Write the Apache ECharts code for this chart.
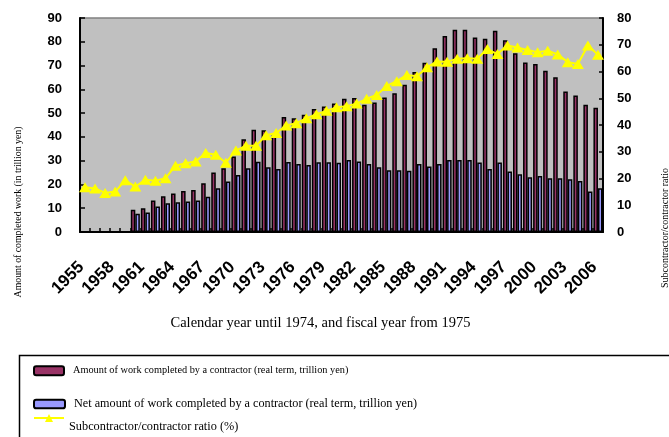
<!DOCTYPE html>
<html><head><meta charset="utf-8">
<script src="https://cdn.jsdelivr.net/npm/echarts@6/dist/echarts.min.js"></script>
<style>html,body{margin:0;padding:0;background:#fff}#c{width:669px;height:437px}</style>
</head><body><div id="c"></div>
<script>
const years = ['1955','1956','1957','1958','1959','1960','1961','1962','1963','1964','1965','1966','1967','1968','1969','1970','1971','1972','1973','1974','1975','1976','1977','1978','1979','1980','1981','1982','1983','1984','1985','1986','1987','1988','1989','1990','1991','1992','1993','1994','1995','1996','1997','1998','1999','2000','2001','2002','2003','2004','2005','2006'];
const contractor = [null,null,null,null,null,
  9.4,10.0,13.3,15.0,16.2,17.2,17.7,20.5,25.0,26.8,
  31.7,39.0,43.0,42.8,41.5,48.4,47.8,49.3,51.7,52.8,
  54.0,56.0,56.4,53.5,54.5,56.6,58.4,61.9,67.3,71.2,
  77.3,82.4,85.1,85.1,81.8,81.3,84.6,80.6,75.2,71.3,
  70.7,67.8,65.1,59.1,57.4,53.5,52.3];
const netAmount = [null,null,null,null,null,
  7.7,8.2,10.7,12.1,12.5,12.8,13.3,14.8,18.4,21.2,
  24.0,26.8,29.5,27.2,26.5,29.4,28.6,28.2,29.3,29.3,
  29.1,30.3,29.6,28.6,27.2,26.0,26.0,25.8,28.6,27.5,
  28.6,30.3,30.3,30.3,29.2,26.5,29.2,25.4,24.3,23.0,
  23.6,22.6,22.6,22.2,21.5,17.0,18.4];
const ratio = [16.7,16.3,14.6,15.1,19.3,
  17.0,19.5,19.2,20.1,24.8,25.7,26.4,29.5,28.9,25.9,
  30.5,32.2,32.2,36.2,37.0,39.8,40.7,42.5,44.0,45.3,
  46.6,47.0,48.0,49.8,51.2,54.6,56.4,58.7,58.2,61.6,
  63.7,63.6,64.8,65.0,64.8,68.4,66.5,69.7,69.0,68.0,
  67.2,67.8,66.4,63.5,62.8,69.7,66.3];
const seriesNames = ['Amount of work completed by a contractor (real term, trillion yen)',
  'Net amount of work completed by a contractor (real term, trillion yen)',
  'Subcontractor/contractor ratio (%)'];
const xTitle = 'Calendar year until 1974, and fiscal year from 1975';
const yLeftTitle = 'Amount of completed work (in trillion yen)';
const yRightTitle = 'Subcontractor/contractor ratio';

const chart = echarts.init(document.getElementById('c'), null, {renderer:'canvas'});
const serif = 'Liberation Serif';
const sans = 'Liberation Sans';
chart.setOption({
  animation:false,
  backgroundColor:'#fff',
  grid:{left:80,right:66,top:18,height:214,outerBoundsMode:'none',containLabel:false,
    show:true,backgroundColor:'#C0C0C0',borderColor:'#808080',borderWidth:1.5},
  legend:[
    {data:[seriesNames[0]],left:33,top:364.7,padding:0,itemWidth:30,itemHeight:9,
     itemStyle:{borderColor:'#000',borderWidth:2},
     textStyle:{fontFamily:serif,fontSize:10.3,lineHeight:12,color:'#000',padding:[0,0,0,4]}},
    {data:[seriesNames[1]],left:33,top:397.5,padding:0,itemWidth:31,itemHeight:8.5,
     itemStyle:{borderColor:'#000',borderWidth:2},
     textStyle:{fontFamily:serif,fontSize:12.2,lineHeight:13,color:'#000',padding:[0,0,0,4]}},
    {data:[seriesNames[2]],left:33,top:403,padding:0,itemWidth:30,itemHeight:10,
     formatter:function(n){return '{t|' + n + '}';},
     textStyle:{color:'#000',rich:{t:{fontFamily:serif,fontSize:12.3,lineHeight:14,color:'#000',padding:[18,0,0,0]}}}}
  ],
  xAxis:{type:'category',data:years,boundaryGap:true,
    axisLine:{lineStyle:{color:'#000',width:2}},
    axisTick:{show:true,inside:true,length:4,interval:0,lineStyle:{color:'#000',width:1.5}},
    axisLabel:{interval:2,rotate:45,fontFamily:sans,fontWeight:'bold',fontSize:17,color:'#000',margin:29,padding:[0,5,0,0]},
    name:xTitle,nameLocation:'middle',nameGap:84,
    nameTextStyle:{fontFamily:serif,fontSize:14.5,color:'#000',padding:[0,42,0,0]}
  },
  yAxis:[
    {type:'value',min:0,max:90,interval:10,position:'left',
     axisLine:{show:true,lineStyle:{color:'#000',width:2}},
     axisTick:{show:true,inside:true,length:5,lineStyle:{color:'#000',width:1.5}},
     axisLabel:{fontFamily:sans,fontWeight:'bold',fontSize:13,color:'#000',margin:18},
     splitLine:{show:false},
     name:yLeftTitle,nameLocation:'middle',nameRotate:90,nameGap:57,
     nameTextStyle:{fontFamily:serif,fontSize:9.8,color:'#000',padding:[0,174,0,0]}},
    {type:'value',min:0,max:80,interval:10,position:'right',
     axisLine:{show:true,lineStyle:{color:'#000',width:2}},
     axisTick:{show:true,inside:true,length:4,lineStyle:{color:'#000',width:1.5}},
     axisLabel:{fontFamily:sans,fontWeight:'bold',fontSize:13,color:'#000',margin:14},
     splitLine:{show:false},
     name:yRightTitle,nameLocation:'middle',nameRotate:90,nameGap:57,
     nameTextStyle:{fontFamily:serif,fontSize:10,color:'#000',padding:[0,206,0,0]}}
  ],
  graphic:[{type:'rect',left:17,top:353,shape:{x:0,y:0,width:700,height:120},
    style:{fill:'none',stroke:'#000',lineWidth:1.5},silent:true}],
  series:[
    {name:seriesNames[0],type:'bar',data:contractor,barGap:0,barCategoryGap:'10%',
     itemStyle:{color:'#993366',borderColor:'#000',borderWidth:1.5}},
    {name:seriesNames[1],type:'bar',data:netAmount,
     itemStyle:{color:'#9999FF',borderColor:'#000',borderWidth:1.5}},
    {name:seriesNames[2],type:'line',yAxisIndex:1,data:ratio,z:10,
     symbol:'triangle',symbolSize:[12,10],showAllSymbol:true,
     lineStyle:{color:'#FFFF00',width:2},itemStyle:{color:'#FFFF00'}}
  ]
});
</script></body></html>
